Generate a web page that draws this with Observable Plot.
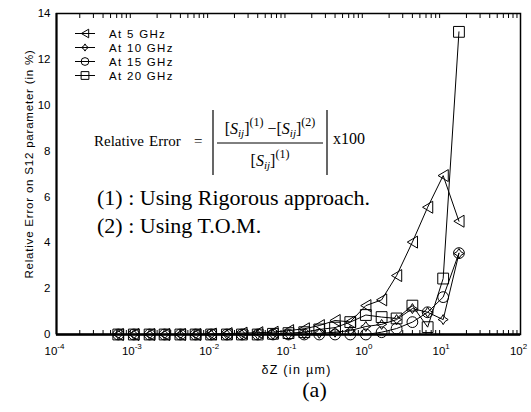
<!DOCTYPE html>
<html><head><meta charset="utf-8">
<script src="https://cdn.jsdelivr.net/npm/d3@7"></script>
<script src="https://cdn.jsdelivr.net/npm/@observablehq/plot@0.6"></script>
<style>
body{margin:0;background:#fff;}
#chart{width:531px;height:412px;}
</style></head><body><div id="chart"></div>
<script>
// ---- data ----
const dz = [0.00063, 0.001, 0.0016, 0.0025, 0.004, 0.0063, 0.01, 0.016, 0.025, 0.04, 0.063, 0.1, 0.16, 0.25, 0.4, 0.63, 1, 1.6, 2.5, 4, 6.3, 10, 16];
const err5  = [0, 0, 0, 0, 0, 0, 0.02, 0.04, 0.06, 0.08, 0.1, 0.17, 0.25, 0.39, 0.61, 0.55, 1.26, 1.51, 2.57, 4.03, 5.55, 6.93, 4.94];
const err10 = [0, 0, 0, 0, 0, 0, 0, 0, 0, 0, 0, 0, 0.02, 0.05, 0.1, 0.17, 0.35, 0.44, 0.65, 1.13, 0.97, 0.65, 3.53];
const err15 = [0, 0, 0, 0, 0, 0, 0, 0, 0, 0, 0, 0, 0, 0, 0, 0, 0, 0.1, 0.26, 0.54, 0.97, 1.63, 3.55];
const err20 = [0, 0, 0, 0, 0, 0, 0, 0, 0, 0, 0.03, 0.06, 0.1, 0.22, 0.3, 0.54, 0.85, 0.76, 0.7, 1.26, 0.32, 2.44, 13.2];
const seriesNames = ["At 5 GHz", "At 10 GHz", "At 15 GHz", "At 20 GHz"];
const xTicks = [1e-4, 1e-3, 1e-2, 1e-1, 1, 10, 100];
const yTicks = [0, 2, 4, 6, 8, 10, 12, 14];
const yLabel = "Relative Error on S12 parameter (in %)";
const xLabel = "\u03B4Z (in \u00B5m)";
const panelLabel = "(a)";
const noteLines = ["(1) : Using Rigorous approach.", "(2) : Using T.O.M."];

// ---- custom marker symbols ----
const symTri = {draw(c, s) { const r = Math.sqrt(s / Math.PI); c.moveTo(-r * 0.85, 0); c.lineTo(r * 0.85, -r); c.lineTo(r * 0.85, r); c.closePath(); }};
const symStar = {draw(c, s) { const r = Math.sqrt(s / Math.PI), q = r * 0.38;
  c.moveTo(0, -r); c.lineTo(q, -q); c.lineTo(r, 0); c.lineTo(q, q); c.lineTo(0, r); c.lineTo(-q, q); c.lineTo(-r, 0); c.lineTo(-q, -q); c.closePath(); }};
const symCirc = {draw(c, s) { const r = Math.sqrt(s / Math.PI) * 0.9; c.moveTo(r, 0); c.arc(0, 0, r, 0, 2 * Math.PI); }};
const symSq = {draw(c, s) { const h = Math.sqrt(s / Math.PI) * 0.9; c.rect(-h, -h, 2 * h, 2 * h); }};
const symbols = [symTri, symStar, symCirc, symSq];
const radii = [6, 5, 6, 6];

const values = [err5, err10, err15, err20];
const rows = seriesNames.flatMap((s, i) => dz.map((x, j) => ({series: s, k: i, dz: x, err: values[i][j]})));

const minorTicks = [];
for (let e = -4; e < 2; e++) for (let m = 2; m <= 9; m++) minorTicks.push(m * Math.pow(10, e));

const serif = "'Liberation Serif','Times New Roman',serif";

// legend + formula drawn as a custom mark
function annotations(index, scales, vals, dims) {
  const g = d3.create("svg:g").attr("text-anchor", "start");
  const L = dims.marginLeft, T = dims.marginTop;
  // legend
  seriesNames.forEach((s, i) => {
    const cy = T + 20.5 + 14 * i;
    g.append("line").attr("x1", L + 19).attr("x2", L + 39).attr("y1", cy).attr("y2", cy).attr("stroke", "black");
    g.append("path").attr("transform", `translate(${L + 29},${cy})`)
      .attr("d", d3.symbol(symbols[i], Math.PI * (radii[i] * 0.72) ** 2)()).attr("fill", "none").attr("stroke", "black");
    g.append("text").attr("x", L + 53).attr("y", cy + 4).attr("font-size", 11.5).attr("letter-spacing", 1.3).text(s);
  });
  // formula
  const f = g.append("g").attr("font-family", serif).attr("fill", "black");
  f.append("text").attr("x", 94).attr("y", 146).attr("font-size", 15).text("Relative");
  f.append("text").attr("x", 149).attr("y", 146).attr("font-size", 15).text("Error");
  f.append("text").attr("x", 194).attr("y", 146).attr("font-size", 15).text("=");
  const term = (t, sup, dy0) => {
    const a = t.append("tspan").text("[");
    if (dy0) a.attr("dy", dy0);
    t.append("tspan").attr("font-style", "italic").text("S");
    t.append("tspan").attr("font-style", "italic").attr("font-size", 11).attr("dy", 3).text("ij");
    t.append("tspan").attr("dy", -3).text("]");
    t.append("tspan").attr("font-size", 12).attr("dy", -8).text(sup);
  };
  const num = f.append("text").attr("x", 270).attr("y", 134).attr("font-size", 16).attr("text-anchor", "middle");
  term(num, "(1)");
  num.append("tspan").attr("dy", 8).text(" \u2212");
  term(num, "(2)");
  f.append("line").attr("x1", 217).attr("x2", 323).attr("y1", 143).attr("y2", 143).attr("stroke", "black");
  const den = f.append("text").attr("x", 270).attr("y", 166).attr("font-size", 16).attr("text-anchor", "middle");
  term(den, "(1)");
  f.append("line").attr("x1", 213).attr("x2", 213).attr("y1", 110).attr("y2", 175).attr("stroke", "black").attr("stroke-width", 1.2);
  f.append("line").attr("x1", 327).attr("x2", 327).attr("y1", 110).attr("y2", 175).attr("stroke", "black").attr("stroke-width", 1.2);
  f.append("text").attr("x", 333).attr("y", 144).attr("font-size", 16).text("x100");
  // notes
  noteLines.forEach((s, i) => {
    f.append("text").attr("x", 97).attr("y", 205 + 28 * i).attr("font-size", 22).text(s);
  });
  return g.node();
}

const chart = Plot.plot({
  width: 531,
  height: 412,
  marginLeft: 56,
  marginRight: 11,
  marginTop: 13,
  marginBottom: 78,
  style: {fontFamily: "'Liberation Sans', Arial, sans-serif", fontSize: "11px", background: "white", color: "black"},
  x: {type: "log", domain: [1e-4, 100], axis: null},
  y: {domain: [0, 14], axis: null},
  marks: [
    Plot.frame({stroke: "black", strokeWidth: 1.5}),
    Plot.ruleY([0], {stroke: "black", strokeWidth: 2.5}),
    Plot.ruleX([1e-4], {stroke: "black", strokeWidth: 2}),
    Plot.axisX(minorTicks, {anchor: "bottom", tickSize: 4, dy: -4, tickFormat: () => "", label: null}),
    Plot.axisX(minorTicks, {anchor: "top", tickSize: 4, dy: 4, tickFormat: () => "", label: null}),
    Plot.axisX(xTicks, {anchor: "bottom", tickSize: 0, tickPadding: 12, fontSize: 11.5, tickFormat: d => "10^" + Math.round(Math.log10(d)), label: null}),
    Plot.axisY(yTicks, {anchor: "left", tickSize: 0, tickPadding: 6, fontSize: 11.5, label: null}),
    Plot.text([yLabel], {frameAnchor: "left", rotate: -90, dx: -27, dy: -10, fontSize: 11.5, textAnchor: "middle", lineAnchor: "middle"}),
    Plot.text([xLabel], {frameAnchor: "bottom", dx: 8, dy: 35, fontSize: 12.5, textAnchor: "middle", lineAnchor: "middle"}),
    Plot.text([panelLabel], {frameAnchor: "bottom", dx: 26, dy: 55, fontSize: 22, fontFamily: serif, textAnchor: "middle", lineAnchor: "middle"}),
    Plot.line(rows, {x: "dz", y: "err", z: "series", stroke: "black", strokeWidth: 1}),
    ...seriesNames.map((s, i) => Plot.dot(rows.filter(d => d.k === i), {x: "dz", y: "err", symbol: symbols[i], r: radii[i], stroke: "black", fill: "none", strokeWidth: 1})),
    annotations
  ]
});

const sel = d3.select(chart);
// remove empty minor-tick labels; superscript exponents on decade labels
sel.selectAll('g[aria-label="x-axis tick label"] text').each(function() {
  const t = d3.select(this);
  const s = t.text();
  if (!s.startsWith("10^")) { t.remove(); return; }
  const exp = s.slice(3);
  t.text("10").attr("dx", -2);
  t.append("tspan").attr("font-size", 8).attr("dy", -6).text(exp);
});
// wider tracking on the axis titles, as in the reference
sel.selectAll('g[aria-label="text"] text').each(function() {
  const t = d3.select(this);
  if (t.text() === yLabel) t.attr("letter-spacing", 0.8);
  if (t.text() === xLabel) t.attr("letter-spacing", 1.3);
});

document.getElementById("chart").appendChild(chart);
</script>
</body></html>
